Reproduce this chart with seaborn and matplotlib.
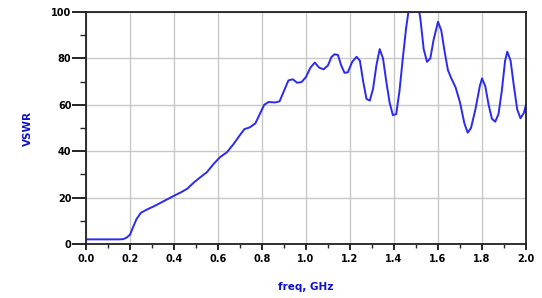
import numpy as np
import pandas as pd
import matplotlib
matplotlib.use("Agg")
import matplotlib.pyplot as plt
from matplotlib.ticker import MultipleLocator
import seaborn as sns

freq_ghz = [0.00, 0.05, 0.10, 0.15, 0.17, 0.185, 0.20, 0.215, 0.23, 0.25,
            0.28, 0.31, 0.34, 0.37, 0.40, 0.43, 0.46, 0.49, 0.52, 0.55,
            0.58, 0.61, 0.64, 0.67, 0.70, 0.72, 0.745, 0.77, 0.79, 0.81,
            0.83, 0.86, 0.88, 0.90, 0.92, 0.94, 0.96, 0.98, 1.00, 1.02,
            1.04, 1.06, 1.08, 1.10, 1.115, 1.13, 1.145, 1.16, 1.175, 1.19,
            1.21, 1.23, 1.245, 1.26, 1.275, 1.29, 1.305, 1.32, 1.335, 1.35,
            1.365, 1.38, 1.395, 1.41, 1.425, 1.44, 1.455, 1.47, 1.49, 1.51,
            1.52, 1.535, 1.55, 1.565, 1.58, 1.60, 1.615, 1.63, 1.645, 1.66,
            1.68, 1.70, 1.72, 1.735, 1.75, 1.77, 1.79, 1.80, 1.815, 1.83,
            1.845, 1.86, 1.875, 1.89, 1.905, 1.915, 1.93, 1.945, 1.96, 1.975,
            1.99, 2.00]
vswr = [2, 2, 2, 2, 2.1, 2.8, 4, 7.5, 10.8, 13.5,
        15, 16.3, 17.8, 19.3, 20.8, 22.2, 23.8, 26.5, 28.8, 31,
        34.5, 37.5, 39.5, 43, 47, 49.5, 50.3, 52, 56, 60,
        61.2, 61, 61.5, 66, 70.5, 71, 69.5, 69.8, 72, 76,
        78.2, 76, 75.3, 77, 80.5, 81.8, 81.5, 77, 73.8, 74,
        78.5, 80.7, 79, 70, 62.5, 61.8, 67, 77, 84, 80,
        70, 61, 55.5, 56, 66, 80, 93, 103, 108, 103,
        97, 84, 78.5, 80, 88, 95.8, 92, 83, 75, 71.5,
        67.5, 61, 52, 48, 50, 58, 68, 71.4, 68, 60,
        54, 52.7, 56, 66, 79, 82.9, 79, 68, 58, 54.2,
        56.5, 60]

x_ticks = [0.0, 0.2, 0.4, 0.6, 0.8, 1.0, 1.2, 1.4, 1.6, 1.8, 2.0]
x_ticklabels = ["0.0", "0.2", "0.4", "0.6", "0.8", "1.0", "1.2", "1.4", "1.6", "1.8", "2.0"]
y_ticks = [0, 20, 40, 60, 80, 100]
y_ticklabels = ["0", "20", "40", "60", "80", "100"]

df = pd.DataFrame({"freq": freq_ghz, "vswr": vswr})

sns.set_style("white")
plt.rcParams["font.family"] = ["DejaVu Sans"]

fig = plt.figure(figsize=(5.42, 2.98), dpi=100)
ax = fig.add_axes([86/542, 54/298, 440/542, 232/298])

sns.lineplot(data=df, x="freq", y="vswr", ax=ax, color="#2a2af0", linewidth=1.4)

ax.set_xlim(0, 2.0)
ax.set_ylim(0, 100)
ax.set_xticks(x_ticks)
ax.set_xticklabels(x_ticklabels, fontsize=7, fontweight="bold")
ax.set_yticks(y_ticks)
ax.set_yticklabels(y_ticklabels, fontsize=7, fontweight="bold")
ax.xaxis.set_minor_locator(MultipleLocator(0.1))
ax.yaxis.set_minor_locator(MultipleLocator(10))

ax.grid(True, which="major", color="#c8c8c8", linewidth=1.0)
ax.set_axisbelow(True)

for s in ax.spines.values():
    s.set_visible(True)
    s.set_color("#202020")
    s.set_linewidth(1.3)

ax.tick_params(axis="x", which="major", direction="out", length=4, width=1.2, pad=3, colors="black", bottom=True)
ax.tick_params(axis="x", which="minor", direction="out", length=3, width=1.0, bottom=True)
ax.tick_params(axis="y", which="major", direction="out", length=10, width=1.2, pad=0.5, colors="black", left=True)
ax.tick_params(axis="y", which="minor", direction="out", length=4.5, width=1.0, left=True)

ax.set_xlabel("freq, GHz", fontsize=7.5, fontweight="bold", color="#1010c8", labelpad=13)
ax.set_ylabel("VSWR", fontsize=7.5, fontweight="bold", color="#1010c8", labelpad=13)

fig.savefig("out.png", dpi=100, facecolor="white")
